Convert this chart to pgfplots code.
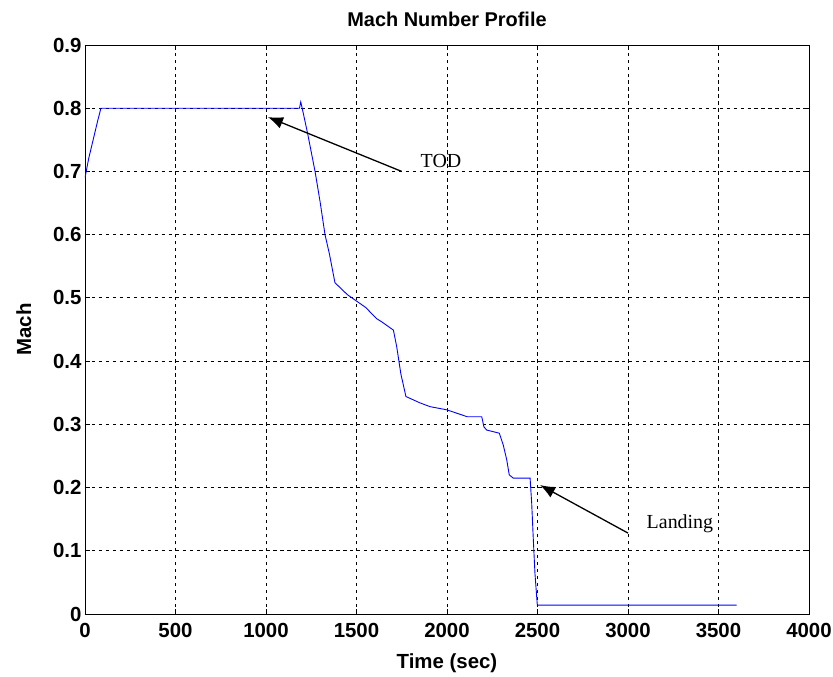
\documentclass[border=0pt]{standalone}
\usepackage{fontspec}
\setmainfont{Liberation Sans}
\newfontfamily\seriffont{Liberation Serif}
\usepackage{pgfplots}
\usetikzlibrary{arrows.meta}
\pgfplotsset{compat=1.18}
\begin{document}
\begin{tikzpicture}
\begin{axis}[
  scale only axis,
  width=724bp, height=569bp,
  xmin=0, xmax=4000, ymin=0, ymax=0.9,
  xtick={0,500,...,4000},
  ytick={0,0.1,...,0.9},
  tick align=inside,
  major tick length=5bp,
  tick style={black, line width=0.8pt},
  axis line style={line width=1pt},
  grid=major,
  grid style={black, line width=0.8pt, dash pattern=on 3.5pt off 3.5pt},
  /pgf/number format/assume math mode=true,
  /pgf/number format/1000 sep={},
  yticklabel style={/pgf/number format/fixed, /pgf/number format/precision=1},
  xticklabel style={yshift=-6bp},
  tick label style={font=\fontsize{20.5}{22}\selectfont\bfseries},
  title={Mach Number Profile},
  title style={font=\fontsize{20}{22}\selectfont\bfseries, yshift=9bp},
  xlabel={Time (sec)},
  ylabel={Mach},
  label style={font=\fontsize{20.5}{22}\selectfont\bfseries},
  xlabel style={yshift=-9bp},
  ylabel style={yshift=15bp},
]
\addplot[blue, line width=0.9pt] coordinates {
(0,0.69) (20,0.72) (45,0.75) (70,0.78) (88,0.80) (500,0.80) (1000,0.80) (1185,0.80) (1192,0.81) (1200,0.80)
(1230,0.76) (1271,0.70) (1300,0.65) (1326,0.60) (1350,0.57) (1381,0.524)
(1450,0.505) (1550,0.485) (1612,0.467) (1640,0.462) (1704,0.449) (1722,0.423)
(1745,0.38) (1773,0.344) (1850,0.334) (1906,0.328) (1998,0.323) (2112,0.312)
(2192,0.312) (2204,0.296) (2219,0.291) (2289,0.286) (2311,0.267) (2330,0.244)
(2344,0.220) (2366,0.215) (2459,0.215) (2468,0.175) (2477,0.117) (2486,0.064)
(2499,0.014) (2600,0.014) (3000,0.014) (3600,0.014)
};
\draw[-{Latex[length=15bp,width=12bp]}, line width=1.3pt] (axis cs:1750,0.70) -- (axis cs:1011,0.786);
\node[font=\seriffont\fontsize{20}{22}\selectfont, anchor=base, inner sep=0pt] at (axis cs:1967,0.706) {TOD};
\draw[-{Latex[length=15bp,width=12bp]}, line width=1.3pt] (axis cs:3000,0.128) -- (axis cs:2514,0.204);
\node[font=\seriffont\fontsize{20}{22}\selectfont, anchor=base, inner sep=0pt] at (axis cs:3287,0.136) {Landing};
\end{axis}
\pgfresetboundingbox
\path[use as bounding box] (current axis.south west) ++(-85bp,-63bp) rectangle ++(833bp,677bp);
\end{tikzpicture}
\end{document}
